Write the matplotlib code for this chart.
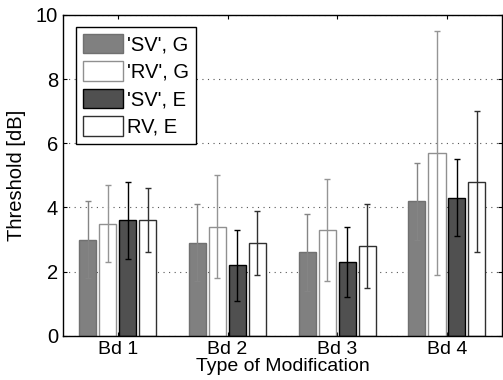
import matplotlib.pyplot as plt
import numpy as np

plt.rcParams['font.family'] = ['Liberation Sans', 'DejaVu Sans']

groups = ['Bd 1', 'Bd 2', 'Bd 3', 'Bd 4']
labels = ["'SV', G", "'RV', G", "'SV', E", "RV, E"]

# mean thresholds per condition
sv_g = [3.0, 2.9, 2.6, 4.2]
rv_g = [3.5, 3.4, 3.3, 5.7]
sv_e = [3.6, 2.2, 2.3, 4.3]
rv_e = [3.6, 2.9, 2.8, 4.8]

# error bar half-lengths
sv_g_err = [1.2, 1.2, 1.2, 1.2]
rv_g_err = [1.2, 1.6, 1.6, 3.8]
sv_e_err = [1.2, 1.1, 1.1, 1.2]
rv_e_err = [1.0, 1.0, 1.3, 2.2]

means = [sv_g, rv_g, sv_e, rv_e]
errs = [sv_g_err, rv_g_err, sv_e_err, rv_e_err]
faces = ['#808080', 'white', '#505050', 'white']
edges = ['#707070', '#909090', 'black', '#303030']
ecols = ['#858585', '#959595', 'black', '#303030']
offsets = [-0.275, -0.092, 0.09, 0.272]

fig = plt.figure(figsize=(5.03, 3.80), dpi=100)
ax = fig.add_axes([0.125, 0.116, 0.873, 0.845])

x = np.arange(1, len(groups) + 1)
for i in range(4):
    ax.bar(x + offsets[i], means[i], width=0.155, color=faces[i],
           edgecolor=edges[i], linewidth=1.0, label=labels[i], zorder=2)
    ax.errorbar(x + offsets[i], means[i], yerr=errs[i], fmt='none',
                ecolor=ecols[i], elinewidth=1.0, capsize=2.5, capthick=1.0, zorder=3)

ax.set_xlim(0.5, 4.5)
ax.set_ylim(0, 10)
ax.set_xticks(x)
ax.set_xticklabels(groups)
ax.set_yticks([0, 2, 4, 6, 8, 10])
ax.tick_params(direction='in', length=3, top=True, right=True, labelsize=14.5)
ax.tick_params(axis='x', pad=3.5, labelsize=14)
ax.yaxis.grid(True, linestyle=(0, (1, 4)), color='#555555', linewidth=0.8)
ax.set_axisbelow(True)
for s in ax.spines.values():
    s.set_linewidth(1.0)

ax.set_xlabel('Type of Modification', fontsize=14, labelpad=0)
ax.set_ylabel('Threshold [dB]', fontsize=14.5, labelpad=7)

leg = ax.legend(loc='upper left', bbox_to_anchor=(0.029, 0.963), borderaxespad=0,
                fontsize=14.5, fancybox=False, framealpha=1, edgecolor='black',
                handlelength=2.0, handleheight=1.1, labelspacing=0.35,
                handletextpad=0.2, borderpad=0.35)
leg.get_frame().set_linewidth(1.0)

plt.savefig('out.png', dpi=100)
